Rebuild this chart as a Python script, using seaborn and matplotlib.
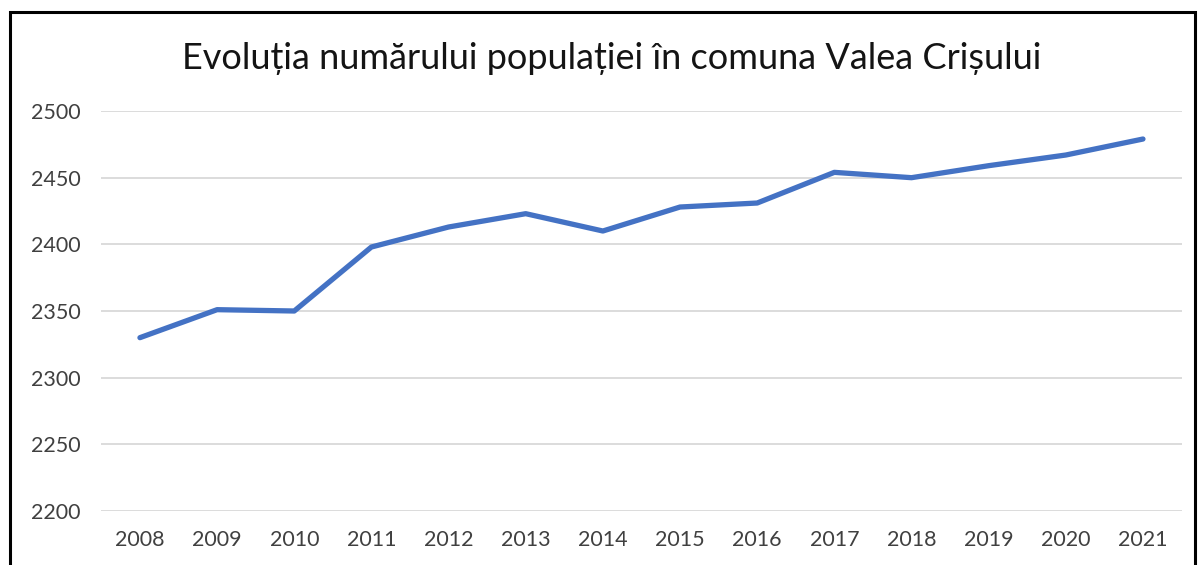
import pandas as pd
import seaborn as sns
import matplotlib.pyplot as plt
from matplotlib.patches import Rectangle

years = [2008, 2009, 2010, 2011, 2012, 2013, 2014, 2015, 2016, 2017, 2018, 2019, 2020, 2021]
population = [2330, 2351, 2350, 2398, 2413, 2423, 2410, 2428, 2431, 2454, 2450, 2459, 2467, 2479]
yticks = [2200, 2250, 2300, 2350, 2400, 2450, 2500]
title = "Evoluția numărului populației în comuna Valea Crișului"

df = pd.DataFrame({"an": years, "populatie": population})

sns.set_theme(style="white")
plt.rcParams["font.family"] = ["Lato", "DejaVu Sans"]

fig = plt.figure(figsize=(12.01, 5.65), dpi=100)
ax = fig.add_axes([0.0844, 0.0956, 0.8994, 0.7079])

sns.lineplot(data=df, x="an", y="populatie", ax=ax, color="#4472C4",
             linewidth=3.8, solid_capstyle="round", solid_joinstyle="round")

ax.set_xlim(2007.5, 2021.5)
ax.set_ylim(2200, 2500)
ax.set_xticks(years)
ax.set_xticklabels([str(y) for y in years])
ax.set_yticks(yticks)
ax.yaxis.grid(True, color="#D9D9D9", linewidth=1.3)
ax.xaxis.grid(False)
ax.tick_params(axis="both", length=0, labelsize=15.5, colors="#404040")
ax.tick_params(axis="y", pad=15)
ax.tick_params(axis="x", pad=14)
for s in ax.spines.values():
    s.set_visible(False)
ax.set_xlabel("")
ax.set_ylabel("")

fig.text(0.509, 0.897, title, ha="center", va="center", fontsize=26, color="#141414")

# chenarul graficului (partea de jos e taiata in original)
fig.add_artist(Rectangle((10 / 1201, -0.1), 1185 / 1201, 1.1 - 12 / 565,
                         transform=fig.transFigure, fill=False,
                         edgecolor="black", linewidth=2.2))

fig.savefig("out.png", dpi=100)
